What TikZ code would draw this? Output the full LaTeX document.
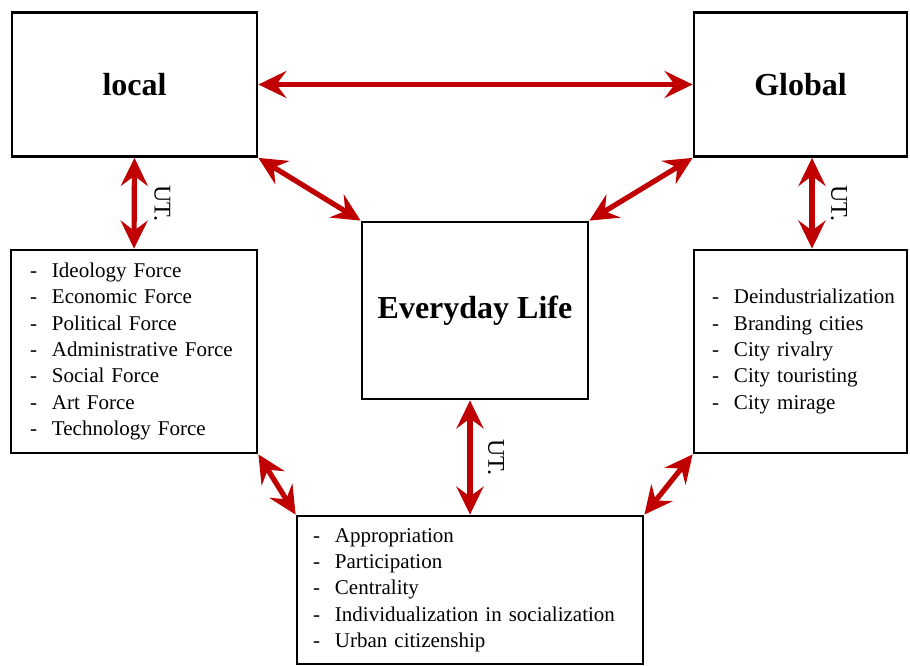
\documentclass[tikz,border=0pt]{standalone}
\usepackage{fontspec}
\setmainfont{Liberation Serif}
\usetikzlibrary{arrows.meta}

\definecolor{arrowred}{RGB}{192,0,0}
\newcommand{\itm}[1]{\makebox[22pt][l]{-}\mbox{#1}}

\begin{document}
\begin{tikzpicture}[x=1pt, y=-1pt,
	box/.style={draw, line width=2.8pt, rectangle, inner sep=0pt},
	title/.style={box, font=\fontsize{32}{38}\selectfont\bfseries},
	listbox/.style={box, font=\fontsize{21}{26.3}\selectfont, align=left},
	link/.style={draw=arrowred, line width=5.2pt,
		{Stealth[length=28pt,width=27pt,inset=10pt]}-{Stealth[length=28pt,width=27pt,inset=10pt]}},
	ut/.style={font=\fontsize{24}{26}\selectfont, rotate=-90, inner sep=0pt}]
%	\draw (0,0) grid (910,666);
	\useasboundingbox (0,0) rectangle (910,666);

	\node[title, minimum width=245pt, minimum height=144pt] (local) at (134.5,84.5) {local};
	\node[title, minimum width=213pt, minimum height=144pt] (global) at (800.5,84.5) {Global};
	\node[title, minimum width=226pt, minimum height=177pt] (everyday) at (475,310.5) {Everyday Life};

	\node[listbox, minimum width=246pt, minimum height=203pt, text width=208pt] (forces) at (134,351.5) {%
		\itm{Ideology Force}\\ \itm{Economic Force}\\ \itm{Political Force}\\
		\itm{Administrative Force}\\ \itm{Social Force}\\ \itm{Art Force}\\
		\itm{Technology Force}};
	\node[listbox, minimum width=213pt, minimum height=203pt, text width=177pt] (trends) at (800.5,351.5) {%
		\itm{Deindustrialization}\\ \itm{Branding cities}\\ \itm{City rivalry}\\
		\itm{City touristing}\\ \itm{City mirage}};
	\node[listbox, minimum width=346pt, minimum height=148pt, text width=314pt] (rights) at (470,590) {%
		\itm{Appropriation}\\ \itm{Participation}\\ \itm{Centrality}\\
		\itm{Individualization in socialization}\\ \itm{Urban citizenship}};

	\draw[link] (local) -- (global);
	\draw[link] (local.south) -- (forces.north) node[midway, xshift=28pt, ut] (utl) {UT.};
	\draw[link] ([xshift=11.5pt]global.south) -- ([xshift=11.5pt]trends.north) node[midway, xshift=27pt, ut] (utg) {UT.};
	\draw[link] (everyday.south -| rights.north) -- (rights.north) node[midway, xshift=26pt, ut] (ute) {UT.};

	\draw[link] (local.south east) -- (everyday.north west);
	\draw[link] (global.south west) -- (everyday.north east);
	\draw[link] (forces.south east) -- (rights.north west);
	\draw[link] (trends.south west) -- (rights.north east);
\end{tikzpicture}
\end{document}
